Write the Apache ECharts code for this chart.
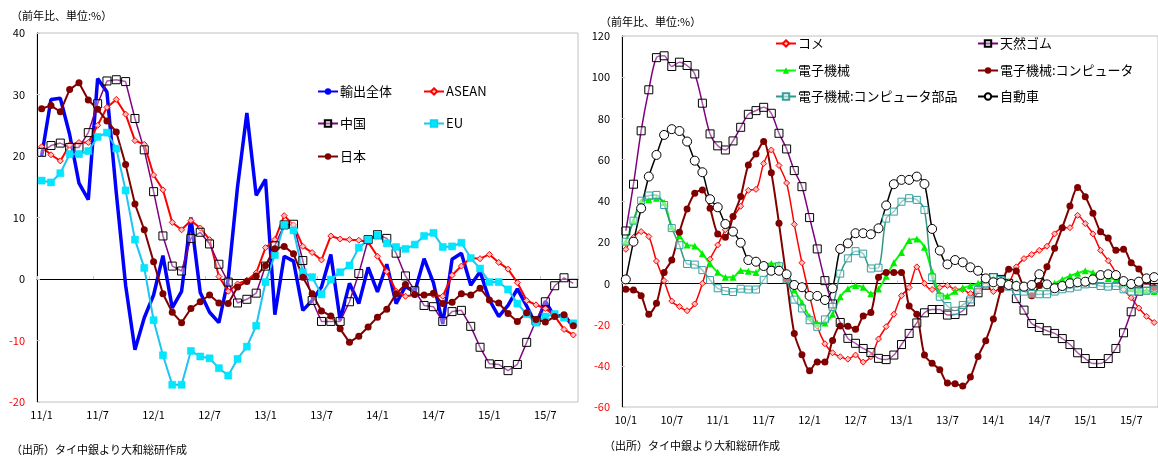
<!DOCTYPE html>
<html>
<head>
<meta charset="utf-8">
<script src="https://cdn.jsdelivr.net/npm/echarts@6/dist/echarts.min.js"></script>
<style>
  html, body { margin: 0; padding: 0; background: #ffffff; }
  #chart { width: 1158px; height: 459px; }
</style>
</head>
<body>
<div id="chart"></div>
<script>
// Month labels "yy/m"
function monthLabels(y0, m0, n) {
  const out = [];
  let y = y0, m = m0;
  for (let i = 0; i < n; i++) {
    out.push(y + '/' + m);
    m++;
    if (m > 12) { m = 1; y++; }
  }
  return out;
}

// ---- Left chart: exports by destination (YoY %), 2011/1 - 2015/10 ----
const leftMonths = monthLabels(11, 1, 58);
const leftYTicks = [-20, -10, 0, 10, 20, 30, 40];

const exportTotal = [20, 29.2, 29.4, 23.5, 15.6, 12.9, 32.6, 30.4, 14, -1,
  -11.5, -6.3, -2.6, 3.8, -4.7, -2, 10, -2.2, -5.4, -7.1,
  0, 15, 27, 13.6, 16.2, -5.8, 3.7, 2.9, -5.1, -3.5,
  -1.3, 4.0, -6.7, -0.7, -4.0, 1.9, -2.1, 2.4, -4.0, -1.2,
  -2.1, 3.3, -0.6, -7.3, 3.2, 4.2, -1.0, 1.2, -3.4, -6.1,
  -4.3, -1.6, -4.4, -7.5, -3.6, -6.2, -5.8, -7.8];
const asean = [21.5, 20.2, 19.2, 21.8, 22.2, 22.2, 25.0, 27.9, 29.2, 26.8,
  22.5, 21.9, 16.9, 14.5, 9.2, 8.0, 9.5, 8.3, 6.4, 0.4,
  -2.0, -0.8, -0.2, 1.0, 5.1, 6.4, 10.3, 8.8, 5.3, 4.3,
  3.1, 7.0, 6.5, 6.4, 6.3, 6.0, 3.7, 1.2, -2.0, -2.8,
  -2.6, -2.6, -2.6, -2.8, 0.6, 2.1, 3.4, 3.3, 4.0, 2.7,
  1.6, -0.6, -3.5, -4.2, -4.8, -6.0, -8.2, -9.1];
const china = [20.6, 21.7, 22.1, 21.4, 21.4, 23.8, 28.5, 32.2, 32.4, 32.1,
  26.1, 21.0, 14.2, 7.0, 2.1, 1.3, 6.6, 7.6, 5.7, 2.4,
  -0.5, -3.9, -3.3, -2.3, 2.1, 5.4, 8.8, 8.9, 3.0, -3.5,
  -6.9, -6.9, -6.9, -3.7, 0.9, 6.4, 7.2, 6.6, 4.2, 0.5,
  -1.9, -4.3, -4.5, -6.9, -5.3, -5.1, -7.7, -11.1, -13.8, -13.9,
  -14.9, -13.9, -10.3, -6.8, -3.7, -1.1, 0.2, -0.7];
const eu = [16.0, 15.7, 17.2, 20.3, 20.3, 20.8, 23.1, 23.8, 21.2, 14.4,
  6.4, 1.8, -6.7, -12.4, -17.2, -17.2, -11.7, -12.6, -12.9, -14.5,
  -15.7, -13.0, -11.0, -7.6, -0.5, 3.9, 8.8, 7.9, 1.1, 0.3,
  -2.5, -0.1, 1.1, 2.2, 5.1, 6.4, 7.1, 5.8, 5.2, 4.9,
  5.6, 7.0, 7.5, 5.2, 5.3, 5.9, 3.4, 1.7, -0.5, -0.5,
  -1.7, -4.0, -5.7, -7.1, -6.1, -5.7, -6.3, -7.2];
const japan = [27.7, 28.2, 27.2, 30.8, 31.9, 29.1, 27.6, 25.7, 23.9, 18.6,
  12.2, 8.0, 2.8, -2.4, -5.4, -7.1, -4.8, -3.7, -2.6, -3.9,
  -4.0, -1.3, -0.4, 0.5, 2.2, 4.9, 5.3, 4.1, 0.3, -2.4,
  -5.2, -6.0, -8.1, -10.3, -9.3, -7.8, -6.2, -4.9, -2.4, -0.9,
  -2.5, -2.6, -2.3, -4.0, -3.8, -2.4, -2.6, -1.5, -3.4, -3.9,
  -5.6, -6.9, -5.5, -6.6, -7.0, -6.1, -5.8, -7.6];

// ---- Right chart: exports by product (YoY %), 2010/1 - 2015/10 ----
const rightMonths = monthLabels(10, 1, 70);
const rightYTicks = [-60, -40, -20, 0, 20, 40, 60, 80, 100, 120];

const rice = [16.5, 22.3, 25.1, 22.7, 10.8, 1.3, -8.6, -11.3, -13.3, -10.0,
  0, 11.7, 18.6, 26.0, 32.3, 37.4, 45.1, 45.6, 58.1, 64.7,
  57.2, 48.7, 28.6, 10, -6, -20.7, -29.3, -33.7, -35.6, -36.8,
  -34.8, -38.2, -35.6, -27, -21, -15, -6, -2, 8, 0,
  -3, -2, -1, -3, -3, -5, -3, -1, -4, -2,
  0, 8, 12, 14, 16, 18, 24, 27, 27, 33,
  29, 24, 16, 11, 5, -3, -7, -12, -16, -19];
const rubber = [25.4, 48.1, 74.0, 93.9, 109.5, 110.4, 105.2, 107.3, 105.7, 101.6,
  87.4, 72.5, 66.7, 64.7, 69.1, 75.7, 82.0, 83.8, 85.4, 82.5,
  72.8, 65.2, 54.7, 46.9, 31.9, 16.7, 1.3, -10, -19, -26.7,
  -29.1, -31.6, -33.6, -36.4, -37.0, -34.8, -29.7, -24.3, -19.2, -14.3,
  -12.7, -12.7, -15.4, -15.1, -13.3, -9.0, -4.6, -0.9, 2.8, 1.9,
  0, -7.4, -13.0, -19.5, -21.4, -23.0, -24.3, -26.8, -29.7, -33.7,
  -36.5, -38.9, -38.9, -36.5, -31.6, -24.0, -13.8, -3.8, 0, -2];
const electronics = [20.2, 30.4, 39.6, 40.5, 41.3, 39.2, 27.5, 23.1, 18.6, 18.1,
  14.4, 9.5, 5.4, 3.0, 2.9, 6.2, 5.9, 5.3, 9.2, 9.6,
  9.2, 2.6, -3.2, -9.3, -16.2, -19.4, -19.3, -15.0, -6.5, -2.6,
  -1.1, -1.9, -5.1, -2.7, 3.4, 10.0, 15.0, 20.8, 21.5, 17.5,
  5.5, -5.1, -6.1, -3.9, -2.2, -1.2, 0, 1.7, 2.3, 2.0,
  0.8, 0, -0.8, -1.6, -0.8, -0.5, 0, 1.9, 3.6, 4.9,
  6.1, 5.2, 3.6, 2.4, 1.9, 0, -2.4, -3.2, -3.6, -4];
const computers = [-2.9, -3.2, -6.0, -15.0, -9.7, 5.2, 11.3, 24.8, 36.1, 43.7,
  45.3, 36.4, 23.9, 22.3, 32.4, 42.1, 57.4, 62.8, 68.8, 53.7,
  29.1, 2, -24.3, -34.7, -42.4, -38.2, -38.2, -27.7, -20.7, -20.8,
  -22.3, -15.9, -14.2, 2.9, 5.2, 5.3, 5.3, -11, -15, -34.8,
  -38.8, -41.9, -48.4, -48.7, -49.8, -45.5, -35.5, -27.8, -17.3, -3,
  6.8, 6, -2, -6, -1, 8, 17, 27, 37.5, 46.5,
  42, 34, 25, 22, 16, 16.5, 10, 7, 1, -2];
const computerParts = [20.2, 30.4, 40.1, 42.6, 42.9, 38.0, 26.8, 18.5, 9.4, 9.1,
  6.4, 1.6, -2.4, -3.7, -4.2, -2.6, -3.0, -3.0, 1.7, 6.4,
  8.3, 1.9, -7.9, -12.2, -17.9, -21.1, -17.5, -11.4, 4.7, 12.1,
  15.6, 14.4, 7.2, 7.6, 31.4, 34.8, 39.6, 41.3, 40.5, 35.6,
  2.9, -6.5, -11.0, -13.3, -10.5, -7.8, -3.2, 0, 2.9, 1.6,
  -1.6, -3.7, -4.0, -5.2, -5.3, -5.3, -4.0, -2.9, -2.4, -1.6,
  -0.5, -0.3, -1.3, -1.6, -1.3, -2.9, -4.0, -4.0, -3.6, -3];
const cars = [1.9, 20.2, 36.4, 51.8, 62.3, 72.0, 74.8, 73.9, 68.8, 59.5,
  53.9, 40.8, 36.9, 28.8, 25.1, 19.7, 11.3, 10.5, 8.4, 6.1,
  6.1, 4.4, -0.8, -1.9, -6.1, -6.1, -8.1, -2.4, 16.7, 19.4,
  24.3, 24.3, 23.8, 26.7, 37.8, 48.1, 50.2, 50.2, 51.8, 48.2,
  26.4, 15.9, 9.2, 11.3, 10.2, 7.8, 6.1, 2.4, 0.5, 0.5,
  -0.8, -1.3, -1.6, -0.8, 4.4, -0.5, -2.4, -1.3, 0, 0.5,
  0.8, 1.9, 4.0, 4.4, 4.0, 1.1, -0.3, 0.8, 2.4, 3];

const FONT = '"Noto Sans CJK JP", "Noto Sans", sans-serif';
const negRed = v => (Number(v) < 0 ? '#ff0000' : '#000000');

function xAxesFor(gridIndex, cats) {
  return [
    { // labelled axis along the bottom edge
      type: 'category', gridIndex, data: cats, position: 'bottom',
      axisLine: { show: false, onZero: false },
      axisTick: { show: false },
      axisLabel: { interval: 5, margin: 7, color: '#000', fontSize: 11, fontFamily: FONT }
    },
    { // zero line with small half-year ticks
      type: 'category', gridIndex, data: cats, position: 'bottom',
      axisLine: { show: true, onZero: true, lineStyle: { color: '#000', width: 1 } },
      axisTick: { show: true, interval: 5, inside: true, length: 3, lineStyle: { color: '#c8c8c8' } },
      axisLabel: { show: false }, splitLine: { show: false }
    }
  ];
}

function yAxisFor(gridIndex, ticks) {
  return {
    type: 'value', gridIndex,
    min: ticks[0], max: ticks[ticks.length - 1], interval: ticks[1] - ticks[0],
    axisLine: { show: true, lineStyle: { color: '#000', width: 1 } },
    axisTick: { show: true, inside: true, length: 3, lineStyle: { color: '#c8c8c8' } },
    axisLabel: { margin: 12, fontSize: 11, fontFamily: FONT, color: negRed },
    splitLine: { show: false }
  };
}

function lineSeries(name, data, axisBase, opts) {
  return Object.assign({
    name, type: 'line', data,
    xAxisIndex: axisBase, yAxisIndex: axisBase / 2,
    showAllSymbol: true,
    animation: false, silent: true,
    emphasis: { disabled: true }
  }, opts);
}

const L = 0, R = 2;   // first x-axis index of each chart

const series = [
  lineSeries('輸出全体', exportTotal, L, {
    symbol: 'none', lineStyle: { color: '#0000ff', width: 3.5 }, itemStyle: { color: '#0000ff' }
  }),
  lineSeries('ASEAN', asean, L, {
    symbol: 'diamond', symbolSize: 6,
    lineStyle: { color: '#ff0000', width: 2 },
    itemStyle: { color: '#ffc0c0', borderColor: '#ff0000', borderWidth: 1 }
  }),
  lineSeries('中国', china, L, {
    symbol: 'rect', symbolSize: 8,
    lineStyle: { color: '#800080', width: 1.5 },
    itemStyle: { color: 'rgba(255,255,255,0.35)', borderColor: '#000000', borderWidth: 1 }
  }),
  lineSeries('EU', eu, L, {
    symbol: 'rect', symbolSize: 7,
    lineStyle: { color: '#1ec4f2', width: 2 },
    itemStyle: { color: '#00e8ff', borderColor: '#00d8f8', borderWidth: 0.5 }
  }),
  lineSeries('日本', japan, L, {
    symbol: 'circle', symbolSize: 7,
    lineStyle: { color: '#800000', width: 2 },
    itemStyle: { color: '#800000' }
  }),

  lineSeries('コメ', rice, R, {
    smooth: 0.3, symbol: 'diamond', symbolSize: 6,
    lineStyle: { color: '#ff0000', width: 1.5 },
    itemStyle: { color: '#ffc0c0', borderColor: '#ff0000', borderWidth: 1 }
  }),
  lineSeries('天然ゴム', rubber, R, {
    smooth: 0.3, symbol: 'rect', symbolSize: 8,
    lineStyle: { color: '#800080', width: 1.5 },
    itemStyle: { color: 'rgba(255,255,255,0.35)', borderColor: '#000000', borderWidth: 1 }
  }),
  lineSeries('電子機械', electronics, R, {
    smooth: 0.3, symbol: 'triangle', symbolSize: 7,
    lineStyle: { color: '#00ff00', width: 2 },
    itemStyle: { color: '#00ee00' }
  }),
  lineSeries('電子機械:コンピュータ', computers, R, {
    smooth: 0.3, symbol: 'circle', symbolSize: 7,
    lineStyle: { color: '#800000', width: 2 },
    itemStyle: { color: '#800000' }
  }),
  lineSeries('電子機械:コンピュータ部品', computerParts, R, {
    smooth: 0.3, symbol: 'rect', symbolSize: 7,
    lineStyle: { color: '#339980', width: 1.5 },
    itemStyle: { color: 'rgba(255,255,255,0.5)', borderColor: '#33a0a0', borderWidth: 1 }
  }),
  lineSeries('自動車', cars, R, {
    smooth: 0.3, symbol: 'circle', symbolSize: 9,
    lineStyle: { color: '#000000', width: 1.5 },
    itemStyle: { color: '#ffffff', borderColor: '#000000', borderWidth: 1 }
  })
];

function legendAt(name, left, top) {
  return {
    data: [name], left, top, orient: 'horizontal',
    itemWidth: 20, itemHeight: 8, itemGap: 0, padding: 0,
    selectedMode: false,
    textStyle: { fontSize: 13, color: '#000', fontFamily: FONT, padding: [0, 0, 0, -3] }
  };
}

function textAt(text, left, top, size) {
  return {
    type: 'text', left, top, silent: true,
    style: { text, fill: '#000', font: size + 'px ' + FONT }
  };
}

const option = {
  backgroundColor: '#ffffff',
  animation: false,
  grid: [
    { left: 37, top: 33, width: 541, height: 369, show: true, borderColor: '#c0c0c0', borderWidth: 1, containLabel: false },
    { left: 622, top: 36, width: 542, height: 371, show: true, borderColor: '#c0c0c0', borderWidth: 1, containLabel: false }
  ],
  xAxis: [...xAxesFor(0, leftMonths), ...xAxesFor(1, rightMonths)],
  yAxis: [yAxisFor(0, leftYTicks), yAxisFor(1, rightYTicks)],
  legend: [
    legendAt('輸出全体', 317, 85),
    legendAt('ASEAN', 423, 85),
    legendAt('中国', 317, 117),
    legendAt('EU', 423, 117),
    legendAt('日本', 317, 150),
    legendAt('コメ', 775, 37),
    legendAt('天然ゴム', 977, 37),
    legendAt('電子機械', 775, 64),
    legendAt('電子機械:コンピュータ', 977, 64),
    legendAt('電子機械:コンピュータ部品', 775, 90),
    legendAt('自動車', 977, 90)
  ],
  graphic: [
    textAt('（前年比、単位:%）', 11, 10, 11),
    textAt('（前年比、単位:%）', 600, 16, 11),
    textAt('（出所）タイ中銀より大和総研作成', 11, 444, 11),
    textAt('（出所）タイ中銀より大和総研作成', 604, 440, 11)
  ],
  series
};

const chart = echarts.init(document.getElementById('chart'), null, { renderer: 'canvas' });
chart.setOption(option);
</script>
</body>
</html>
